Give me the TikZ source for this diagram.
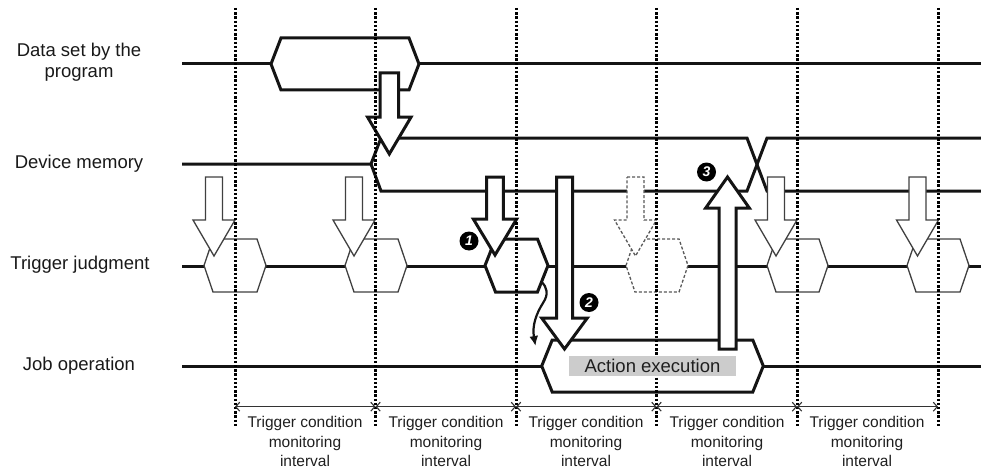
\documentclass[tikz,border=0pt]{standalone}
\usepackage{fontspec}
\setmainfont{Liberation Sans}
\usetikzlibrary{arrows.meta}
% block arrow: style, cx, y-start, y-base of head, y-tip, shaft half width, head half width
\newcommand\blkarrow[7]{\draw[#1] ({#2-#6},#3) -- ({#2+#6},#3) -- ({#2+#6},#4) -- ({#2+#7},#4) -- (#2,#5) -- ({#2-#7},#4) -- ({#2-#6},#4) -- cycle;}
% hexagon: style, x-left, x-right, slant, y-top, y-bottom
\newcommand\hexa[6]{\draw[#1] (#2,{(#5+#6)/2}) -- ({#2+#4},#5) -- ({#3-#4},#5) -- (#3,{(#5+#6)/2}) -- ({#3-#4},#6) -- ({#2+#4},#6) -- cycle;}
\tikzset{
  sigline/.style={line width=3pt, draw=black!92, line join=miter},
  boldshape/.style={line width=3pt, draw=black!92, fill=white, line join=miter},
  thinshape/.style={line width=1.3pt, draw=black!75, fill=white, line join=miter},
  dashshape/.style={thinshape, draw=black!65, dash pattern=on 3pt off 2pt},
  gridline/.style={line width=3pt, draw=black, dash pattern=on 2.4pt off 1.8pt},
  dimline/.style={line width=1.1pt, draw=black!80, {Straight Barb[length=4pt,width=9pt]}-{Straight Barb[length=4pt,width=9pt]}},
  numcircle/.style={circle, fill=black, text=white, inner sep=0pt, minimum size=19pt, font=\fontsize{14}{14}\selectfont\bfseries\itshape},
  lbl/.style={font=\fontsize{18.5}{21.5}\selectfont, align=center, text=black!90},
  intl/.style={font=\fontsize{15.5}{19.5}\selectfont, align=center, text=black!88, inner sep=0pt},
  boxlbl/.style={fill=black!20, minimum width=167pt, minimum height=20pt, inner sep=0pt, font=\fontsize{18.5}{20}\selectfont, text=black!88}
}
\begin{document}
\begin{tikzpicture}[x=1pt,y=-1pt]
\useasboundingbox (0,0) rectangle (981,468);

% row labels
\node[lbl] (ldata) at (79,62) {Data set by the\\program};
\node[lbl] (ldev) at (79,164) {Device memory};
\node[lbl] (ltrig) at (80,265) {Trigger judgment};
\node[lbl] (ljob) at (79,366) {Job operation};

% Data set by the program
\draw[sigline] (182,64) -- (271,64);
\draw[sigline] (419,64) -- (981,64);
\hexa{boldshape}{271}{419}{10}{38}{90}

% Device memory
\draw[sigline] (182,164) -- (371,164) -- (381,138) -- (747,138) -- (767,191) -- (981,191);
\draw[sigline] (371,164) -- (381,191) -- (747,191) -- (767,138) -- (981,138);

% Trigger judgment
\draw[sigline] (182,266) -- (981,266);
\hexa{thinshape}{204}{266}{9}{239}{292}
\hexa{thinshape}{345}{407}{9}{239}{292}
\hexa{dashshape}{626}{688}{9}{239}{292}
\hexa{thinshape}{767}{828}{9}{239}{292}
\hexa{thinshape}{907}{969}{9}{239}{292}
\hexa{boldshape}{485}{548}{10.5}{239}{292}

% trigger arrows
\blkarrow{thinshape}{214}{177}{220}{256}{8.5}{21}
\blkarrow{thinshape}{354}{177}{220}{256}{8.5}{21}
\blkarrow{dashshape}{635.5}{177}{220}{256}{8.5}{21}
\blkarrow{thinshape}{776}{177}{220}{256}{8.5}{21}
\blkarrow{thinshape}{917.5}{177}{220}{256}{8.5}{21}
\blkarrow{boldshape}{495}{177}{219}{255}{8.3}{21.7}

% data -> device memory arrow
\blkarrow{boldshape}{389.3}{73}{117}{154}{9.2}{21.8}

% Job operation
\draw[sigline] (182,366) -- (981,366);
\hexa{boldshape}{541.7}{763.3}{10.5}{340}{392}

% dotted grid lines
\foreach \gx in {235,375.5,516,656.5,797,938}
  \draw[gridline] (\gx,8) -- (\gx,427);

% Action execution label
\node[boxlbl] (act) at (652.5,366) {Action execution};

% curved arrow from trigger hexagon to action execution
\coordinate (cstart) at (541.5,282);
\coordinate (cend) at (535.5,346);
\draw[line width=2.2pt, draw=black!92, -{Latex[length=10pt,width=9pt]}] (cstart) .. controls (547,287) and (549,294) .. (543,303) .. controls (536,314) and (532,326) .. (cend);

% long arrows 2 and 3
\blkarrow{boldshape}{564.5}{177}{318}{349}{8}{22.8}
\blkarrow{boldshape}{727.5}{349}{208}{177}{8.5}{21.8}

% numbers
\node[numcircle] (n1) at (469,241) {1};
\node[numcircle] (n2) at (589,302.5) {2};
\node[numcircle] (n3) at (706.5,172) {3};

% interval dimension lines
\draw[dimline] (235,406.7) -- (375.5,406.7);
\draw[dimline] (375.5,406.7) -- (516,406.7);
\draw[dimline] (516,406.7) -- (656.5,406.7);
\draw[dimline] (656.5,406.7) -- (797,406.7);
\draw[dimline] (797,406.7) -- (938,406.7);

\node[intl] (i1) at (305,441.5) {Trigger condition\\monitoring\\interval};
\node[intl] (i2) at (446,441.5) {Trigger condition\\monitoring\\interval};
\node[intl] (i3) at (586,441.5) {Trigger condition\\monitoring\\interval};
\node[intl] (i4) at (727,441.5) {Trigger condition\\monitoring\\interval};
\node[intl] (i5) at (867,441.5) {Trigger condition\\monitoring\\interval};
\end{tikzpicture}
\end{document}
